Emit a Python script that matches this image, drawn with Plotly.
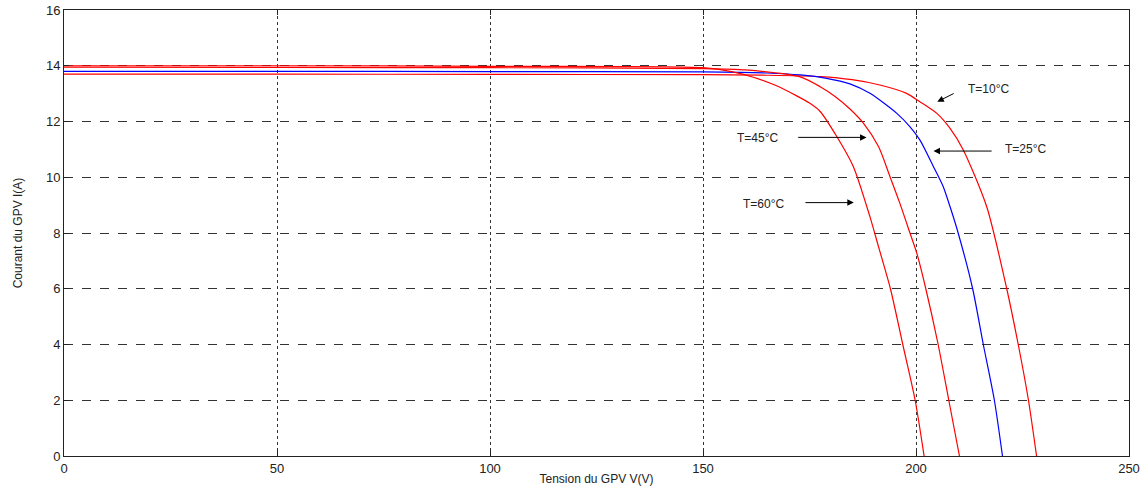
import plotly.graph_objects as go

# Data (tension V, courant A)
T10_V = [0, 50, 100, 150, 165, 177.5, 185, 191.5, 197.8, 200.9, 204.9, 208.0, 211.1, 216.6, 221.3, 224.0, 226.4, 228.3]
T10_I = [13.7, 13.7, 13.69, 13.68, 13.66, 13.61, 13.5, 13.31, 13.01, 12.71, 12.29, 11.75, 10.98, 8.94, 6.0, 4.0, 2.0, 0.0]

T25_V = [0, 50, 100, 150, 165, 172.8, 179.0, 184.5, 189.2, 195.5, 198.6, 200.9, 204.1, 206.4, 208.0, 209.9, 213.3, 215.8, 218.4, 220.3]
T25_I = [13.8, 13.8, 13.79, 13.78, 13.74, 13.67, 13.55, 13.35, 13.01, 12.29, 11.81, 11.34, 10.38, 9.66, 8.94, 8.0, 6.0, 4.0, 2.0, 0.0]

T45_V = [0, 50, 100, 150, 160, 172.8, 177.5, 181.0, 184.5, 187.6, 191.2, 193.9, 196.2, 198.6, 200.2, 202.3, 205.2, 207.7, 210.2]
T45_I = [13.95, 13.94, 13.93, 13.9, 13.85, 13.6, 13.25, 12.9, 12.45, 11.95, 11.1, 10.02, 9.07, 7.99, 7.27, 6.0, 4.0, 2.0, 0.0]

T60_V = [0, 50, 100, 150, 157, 162, 167, 172.0, 175.0, 177.5, 181.4, 185.3, 189.2, 191.2, 194.0, 196.9, 199.8, 201.9]
T60_I = [14.0, 14.0, 13.98, 13.93, 13.78, 13.58, 13.3, 12.92, 12.66, 12.36, 11.46, 10.38, 8.58, 7.51, 6.0, 4.0, 2.0, 0.0]

series = [
    ("T=10°C", T10_V, T10_I, "#ff0000"),
    ("T=25°C", T25_V, T25_I, "#0000ff"),
    ("T=45°C", T45_V, T45_I, "#ff0000"),
    ("T=60°C", T60_V, T60_I, "#ff0000"),
]

# labels: text position, arrow tail, arrow head
labels = ["T=10°C", "T=45°C", "T=25°C", "T=60°C"]
label_x = [217.1, 162.7, 225.6, 164.1]
label_y = [13.17, 11.41, 11.01, 9.03]
tail_x = [209.2, 172.0, 218.1, 173.7]
tail_y = [13.03, 11.43, 10.94, 9.09]
head_x = [205.0, 188.4, 204.1, 185.4]
head_y = [12.71, 11.43, 10.94, 9.09]

fig = go.Figure()
for name, v, i, c in series:
    fig.add_trace(go.Scatter(x=v, y=i, mode="lines", name=name,
                             line=dict(color=c, width=1.2, shape="spline", smoothing=0.7)))

font = dict(family="Liberation Sans, Arial, sans-serif", size=12, color="#222")

for t, lx, ly, tx, ty, hx, hy in zip(labels, label_x, label_y, tail_x, tail_y, head_x, head_y):
    fig.add_annotation(x=lx, y=ly, text=t, showarrow=False, font=font,
                       xref="x", yref="y")
    fig.add_annotation(x=hx, y=hy, ax=tx, ay=ty, xref="x", yref="y",
                       axref="x", ayref="y", text="", showarrow=True,
                       arrowhead=2, arrowsize=1.3, arrowwidth=1, arrowcolor="#000")

axis_common = dict(showline=True, linecolor="#222", linewidth=1, mirror="ticks",
                   ticks="inside", ticklen=5, tickcolor="#222",
                   showgrid=True, gridcolor="#333", gridwidth=1,
                   zeroline=False, tickfont=dict(family="Liberation Sans, Arial, sans-serif", size=13, color="#222"),
                   automargin=False)

fig.update_xaxes(range=[0, 250], tickvals=[0, 50, 100, 150, 200, 250],
                 griddash="dot",
                 title=dict(text="Tension du GPV V(V)", font=dict(family="Liberation Sans, Arial, sans-serif", size=12, color="#222"), standoff=0),
                 **axis_common)
fig.update_yaxes(range=[0, 16], tickvals=[0, 2, 4, 6, 8, 10, 12, 14, 16],
                 griddash="dash",
                 title=dict(text="Courant du GPV I(A)", font=dict(family="Liberation Sans Narrow, Arial Narrow, Liberation Sans, sans-serif", size=12, color="#222"), standoff=20),
                 **axis_common)

fig.update_layout(width=1148, height=490, showlegend=False,
                  plot_bgcolor="white", paper_bgcolor="white",
                  margin=dict(l=64, r=19, t=10, b=34))

fig.write_html("out.html", config={"displayModeBar": False},
               post_script="document.body.style.margin='0';document.body.style.overflow='hidden';")
